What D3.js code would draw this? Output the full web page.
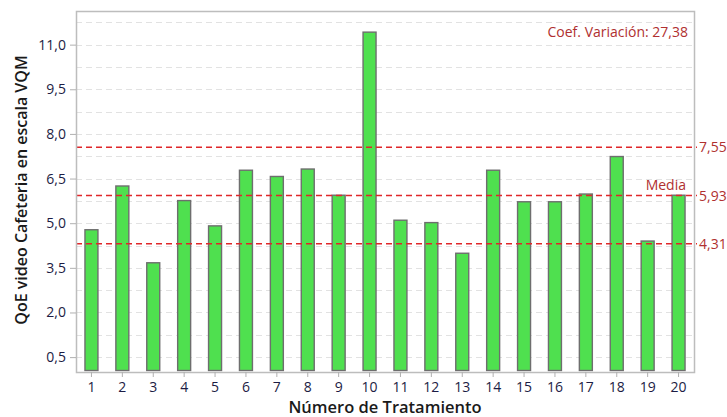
<!DOCTYPE html>
<html>
<head>
<meta charset="utf-8">
<script src="https://cdn.jsdelivr.net/npm/d3@7"></script>
<style>
  body { margin: 0; background: #fff; }
  text { font-family: "Open Sans", "DejaVu Sans", sans-serif; }
</style>
</head>
<body>
<svg id="chart" width="727" height="417"></svg>
<script>
// data
const tratamientos = ["1","2","3","4","5","6","7","8","9","10","11","12","13","14","15","16","17","18","19","20"];
const qoe = [4.78, 6.25, 3.67, 5.76, 4.91, 6.78, 6.57, 6.82, 5.94, 11.42, 5.10, 5.02, 3.99, 6.78, 5.72, 5.72, 5.98, 7.24, 4.40, 5.94];
const yTicks = [0.5, 2.0, 3.5, 5.0, 6.5, 8.0, 9.5, 11.0];
const gridVals = d3.range(0.5, 12, 0.75);
const refLines = [
  { value: 7.55, label: "7,55" },
  { value: 5.93, label: "5,93" },
  { value: 4.31, label: "4,31" }
];
const coefVar = "27,38";

const margin = { top: 11, right: 33, bottom: 45, left: 76 };
const W = 727, H = 417;
const width = W - margin.left - margin.right;
const height = H - margin.top - margin.bottom;

const fmt = d => d3.format(".1f")(d).replace(".", ",");

const svg = d3.select("#chart");
const g = svg.append("g").attr("transform", "translate(" + margin.left + "," + margin.top + ")");

let x = d3.scaleBand().domain(tratamientos).range([0, width]).padding(0);
let y = d3.scaleLinear().domain([0, 12.13]).range([height, 0]);

// grid
g.append("g")
  .selectAll("line")
  .data(gridVals)
  .enter()
  .append("line")
  .attr("x1", 0)
  .attr("x2", width)
  .attr("y1", d => Math.round(y(d)) + 0.5)
  .attr("y2", d => Math.round(y(d)) + 0.5)
  .attr("stroke", "#e2e2e2")
  .attr("stroke-width", 1)
  .attr("stroke-dasharray", "6,4");

// bars
let barW = x.bandwidth() * 0.42;
g.append("g")
  .selectAll("rect")
  .data(qoe)
  .enter()
  .append("rect")
  .attr("x", (d, i) => x(tratamientos[i]) + (x.bandwidth() - barW) / 2)
  .attr("y", d => y(d))
  .attr("width", barW)
  .attr("height", d => height - 1.5 - y(d))
  .attr("fill", "#4fe04f")
  .attr("stroke", "#6e6e6e")
  .attr("stroke-width", 1.4);

// reference lines
g.append("g")
  .selectAll("line")
  .data(refLines)
  .enter()
  .append("line")
  .attr("x1", 0)
  .attr("x2", width + 3)
  .attr("y1", d => y(d.value))
  .attr("y2", d => y(d.value))
  .attr("stroke", "#e0262a")
  .attr("stroke-width", 1.5)
  .attr("stroke-dasharray", "6,4");

g.append("g")
  .selectAll("text")
  .data(refLines)
  .enter()
  .append("text")
  .attr("x", width + 5)
  .attr("y", d => y(d.value) + 5)
  .attr("fill", "#b03030")
  .attr("font-size", 14)
  .text(d => d.label);

g.append("text")
  .attr("x", width - 8)
  .attr("y", y(5.93) - 6)
  .attr("text-anchor", "end")
  .attr("fill", "#b03030")
  .attr("font-size", 14)
  .text("Media");

g.append("text")
  .attr("x", width - 6)
  .attr("y", 26)
  .attr("text-anchor", "end")
  .attr("fill", "#b03030")
  .attr("font-size", 14)
  .text("Coef. Variación: " + coefVar);

// frame
g.append("rect")
  .attr("x", 0.5)
  .attr("y", 0.5)
  .attr("width", width)
  .attr("height", height)
  .attr("fill", "none")
  .attr("stroke", "#bdbdbd")
  .attr("stroke-width", 1.5);

// axes
let yAxis = d3.axisLeft(y).tickValues(yTicks).tickFormat(fmt).tickSize(6).tickPadding(4);
let yg = g.append("g").attr("class", "y axis").call(yAxis);
yg.select(".domain").remove();
yg.selectAll(".tick line").attr("stroke", "#b0b0b0");
yg.selectAll(".tick text")
  .attr("fill", "#1c1c44")
  .attr("font-size", 14)
  .style("font-family", "'Open Sans', sans-serif");

let xAxis = d3.axisBottom(x).tickSize(5).tickPadding(5);
let xg = g.append("g").attr("class", "x axis").attr("transform", "translate(0," + height + ")").call(xAxis);
xg.select(".domain").remove();
xg.selectAll(".tick line").attr("stroke", "#b0b0b0");
xg.selectAll(".tick text")
  .attr("fill", "#1c1c44")
  .attr("font-size", 14)
  .style("font-family", "'Open Sans', sans-serif");

// titles
svg.append("text")
  .attr("x", margin.left + width / 2)
  .attr("y", 413)
  .attr("text-anchor", "middle")
  .attr("fill", "#1a1a1a")
  .attr("font-size", 16.5)
  .attr("font-weight", 600)
  .text("Número de Tratamiento");

svg.append("text")
  .attr("transform", "translate(27," + (margin.top + 179) + ") rotate(-90)")
  .attr("text-anchor", "middle")
  .attr("fill", "#1a1a1a")
  .attr("font-size", 16)
  .attr("font-weight", 600)
  .text("QoE video Cafeteria en escala VQM");
</script>
</body>
</html>
